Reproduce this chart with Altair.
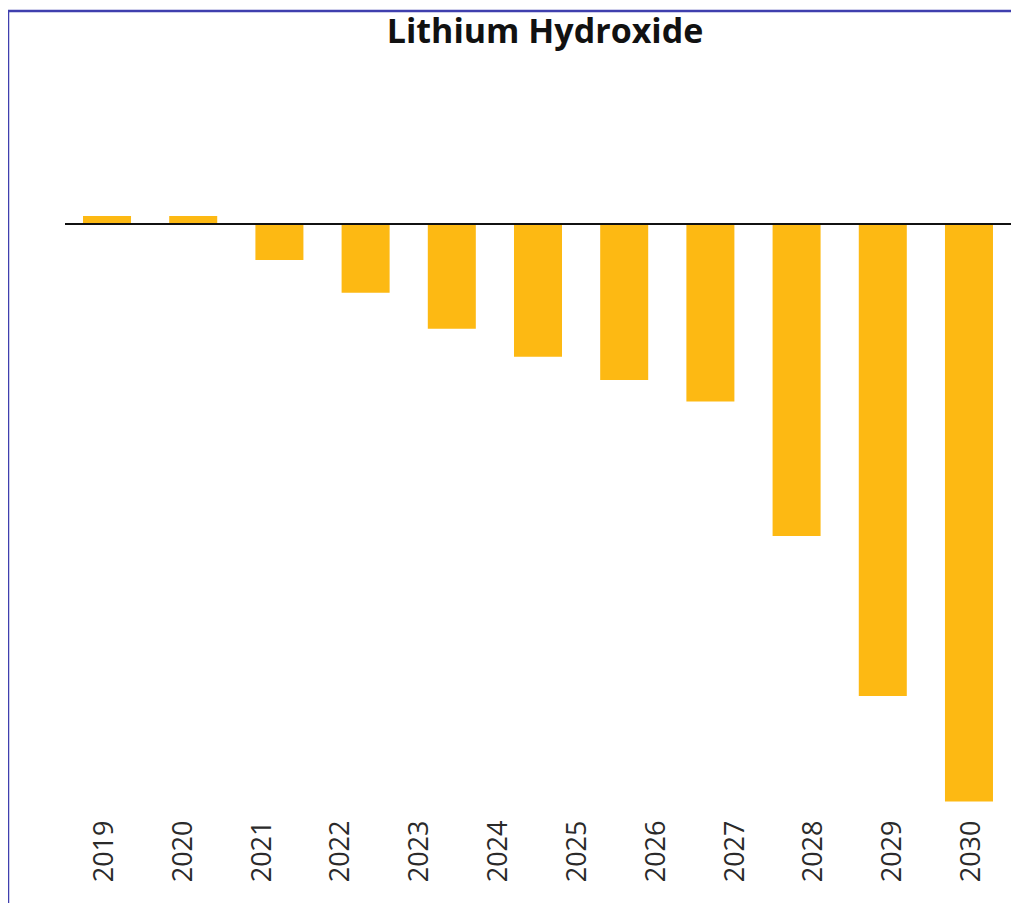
import altair as alt
import pandas as pd

# Bars as drawn in the picture (11 bars)
bar_years = ["2019", "2020", "2021", "2022", "2023", "2024", "2025", "2026", "2027", "2028", "2029"]
bar_values = [5, 5, -22.5, -43, -65.5, -83, -97.5, -111, -195, -295, -361]

# Axis labels as printed under the chart (12 labels)
label_years = ["2019", "2020", "2021", "2022", "2023", "2024", "2025", "2026", "2027", "2028", "2029", "2030"]

title_text = ["Lithium Hydroxide"]
bar_color = "#FDB913"
frame_color = "#3f3fae"

bars_df = pd.DataFrame({"year": bar_years, "value": bar_values})
labels_df = pd.DataFrame({"year": label_years})
zero_df = pd.DataFrame({"v": [0]})
title_df = pd.DataFrame({"t": title_text})

W, H = 946, 752
y_scale = alt.Scale(domain=[-370, 100], nice=False, zero=False)

bars = alt.Chart(bars_df).mark_bar(color=bar_color).encode(
    x=alt.X("year:N", sort=bar_years, axis=None,
            scale=alt.Scale(paddingInner=0.443, paddingOuter=0.209)),
    y=alt.Y("value:Q", scale=y_scale, axis=None),
    y2=alt.datum(0),
)

zero_line = alt.Chart(zero_df).mark_rule(color="#111111", strokeWidth=2).encode(
    y=alt.Y("v:Q", scale=y_scale, axis=None),
    x=alt.value(0),
    x2=alt.value(960),
)

labels = alt.Chart(labels_df).mark_point(opacity=0, size=1).encode(
    x=alt.X("year:N", sort=label_years,
            scale=alt.Scale(paddingInner=0, paddingOuter=0),
            axis=alt.Axis(title=None, labelAngle=-90, labelAlign="right",
                          labelBaseline="middle", labelPadding=4,
                          ticks=False, tickSize=0, domain=False, grid=False,
                          labelFont="Open Sans", labelFontSize=27,
                          labelColor="#2a2a2a")),
    y=alt.value(0),
)

title = alt.Chart(title_df).mark_text(
    font="Open Sans", fontSize=34, fontWeight="bold", color="#111111",
    align="center", baseline="alphabetic",
).encode(text="t:N", x=alt.value(480), y=alt.value(-21))

frame_top = alt.Chart(zero_df).mark_rule(color=frame_color, strokeWidth=2.5).encode(
    x=alt.value(-57), x2=alt.value(1000), y=alt.value(-53),
)
frame_left = alt.Chart(zero_df).mark_rule(color=frame_color, strokeWidth=2.5).encode(
    x=alt.value(-57), y=alt.value(-53), y2=alt.value(900),
)

chart = alt.layer(bars, zero_line, labels, title, frame_top, frame_left).resolve_scale(
    x="independent"
).properties(
    width=W,
    height=H,
    background="white",
    autosize=alt.AutoSizeParams(type="none"),
    padding={"left": 57, "top": 56, "right": 0, "bottom": 87},
).configure_view(strokeWidth=0)

chart.save("out.html", embed_options={"renderer": "svg", "actions": False})
